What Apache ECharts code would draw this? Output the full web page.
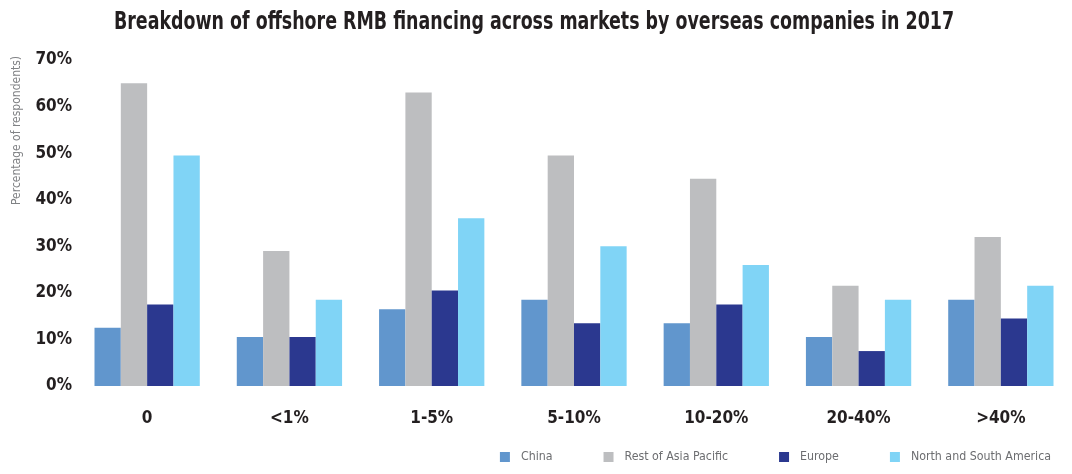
<!DOCTYPE html>
<html>
<head>
<meta charset="utf-8">
<script src="https://cdn.jsdelivr.net/npm/echarts@6/dist/echarts.min.js"></script>
<style>
  html, body { margin: 0; padding: 0; background: #fff; }
  #main { width: 1072px; height: 474px; }
</style>
</head>
<body>
<div id="main"></div>
<script>
var myChart = echarts.init(document.getElementById('main'));

// share of financing raised offshore, by market
const categories = ['0', '<1%', '1-5%', '5-10%', '10-20%', '20-40%', '>40%']
const china = [12.5, 10.5, 16.5, 18.5, 13.5, 10.5, 18.5]
const restOfAsia = [65, 29, 63, 49.5, 44.5, 21.5, 32]
const europe = [17.5, 10.5, 20.5, 13.5, 17.5, 7.5, 14.5]
const americas = [49.5, 18.5, 36, 30, 26, 18.5, 21.5]
const yTicks = [0, 10, 20, 30, 40, 50, 60, 70]

const seriesNames = ['China', 'Rest of Asia Pacific', 'Europe', 'North and South America']
const seriesData = [china, restOfAsia, europe, americas]
const colors = ['#6196cd', '#bdbec0', '#2b388f', '#80d4f6']

const narrow = '"DejaVu Sans Condensed", "Liberation Sans Narrow", sans-serif'

option = {
    animation: false,
    graphic: [{
        // title, squeezed to look like a heavy condensed face
        type: 'text',
        x: 534,
        y: 10,
        scaleX: 0.775,
        style: {
            text: 'Breakdown of offshore RMB financing across markets by overseas companies in 2017',
            align: 'center',
            fontFamily: narrow,
            fontWeight: 'bold',
            fontSize: 25,
            fill: '#231f20'
        }
    }, {
        type: 'text',
        x: 11,
        y: 205,
        rotation: Math.PI / 2,
        style: {
            text: 'Percentage of respondents)',
            fontFamily: narrow,
            fontSize: 12,
            fill: '#808285'
        }
    }],
    legend: {
        data: seriesNames,
        bottom: 6,
        right: 16,
        itemWidth: 10,
        itemHeight: 10,
        itemGap: 51,
        icon: 'rect',
        textStyle: {
            fontFamily: narrow,
            fontSize: 12.3,
            padding: [0, 0, 0, 6],
            color: '#6d6e71'
        }
    },
    grid: {
        left: 76,
        right: -3,
        top: 60,
        bottom: 88
    },
    xAxis: {
        type: 'category',
        data: categories,
        axisLine: { show: false },
        axisTick: { show: false },
        axisLabel: {
            margin: 24,
            fontFamily: narrow,
            fontWeight: 'bold',
            fontSize: 17,
            color: '#231f20'
        }
    },
    yAxis: {
        type: 'value',
        min: yTicks[0],
        max: yTicks[yTicks.length - 1],
        interval: 10,
        splitLine: { show: false },
        axisLine: { show: false },
        axisTick: { show: false },
        axisLabel: {
            margin: 4,
            formatter: '{value}%',
            fontFamily: narrow,
            fontWeight: 'bold',
            fontSize: 17,
            color: '#231f20'
        }
    },
    series: seriesNames.map((name, i) => {
        return {
            name: name,
            type: 'bar',
            data: seriesData[i],
            barGap: '0%',
            barCategoryGap: '26%',
            itemStyle: { color: colors[i] }
        }
    })
};

myChart.setOption(option)
</script>
</body>
</html>
